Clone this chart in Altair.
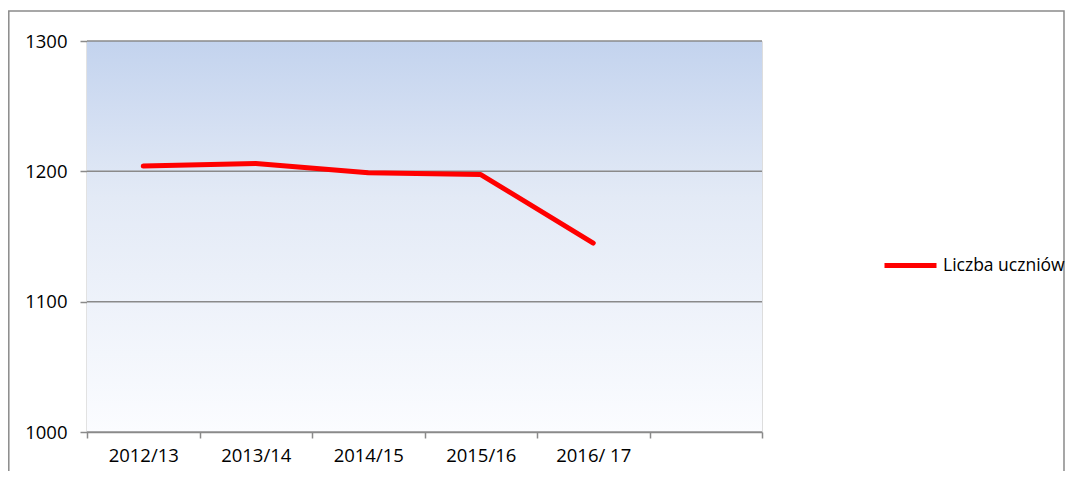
import altair as alt
import pandas as pd

categories = ["2012/13", "2013/14", "2014/15", "2015/16", "2016/ 17", ""]
years = ["2012/13", "2013/14", "2014/15", "2015/16", "2016/ 17"]
values = [1204, 1206, 1199, 1197.5, 1145]
series_name = "Liczba uczniów"
y_ticks = [1000, 1100, 1200, 1300]

df = pd.DataFrame({"rok": years, "liczba": values, "seria": [series_name] * len(years)})
grid_df = pd.DataFrame({"v": y_ticks})

FONT = "Open Sans"
FS = 18.5
GRAY = "#8a8a8a"

gradient = alt.LinearGradient(
    gradient="linear",
    stops=[
        alt.GradientStop(color="#c3d3ee", offset=0),
        alt.GradientStop(color="#e3eaf6", offset=0.4),
        alt.GradientStop(color="#fbfcff", offset=1),
    ],
    x1=0, x2=0, y1=0, y2=1,
)

y_scale = alt.Scale(domain=[1000, 1300], nice=False, zero=False)
y_axis = alt.Axis(
    title=None,
    values=y_ticks,
    format="d",
    tickSize=7,
    labelPadding=13,
    labelFont=FONT,
    labelFontSize=FS,
    labelColor="#000000",
    domainColor=GRAY,
    domainWidth=1.5,
    tickColor=GRAY,
    tickWidth=1.5,
    grid=False,
)

background = alt.Chart(pd.DataFrame({"a": [0]})).mark_rect(fill=gradient).encode(
    x=alt.value(0), x2=alt.value(675), y=alt.value(0), y2=alt.value(391)
)

border = alt.Chart(pd.DataFrame({"a": [0]})).mark_rect(
    filled=False, stroke=GRAY, strokeWidth=1.5
).encode(
    x=alt.value(-78.2), x2=alt.value(977), y=alt.value(-30), y2=alt.value(470)
)

grid = alt.Chart(grid_df).mark_rule(color=GRAY, strokeWidth=1.5).encode(
    y=alt.Y("v:Q", scale=y_scale, axis=y_axis),
    x=alt.value(0),
    x2=alt.value(675),
)

line = alt.Chart(df).mark_line(strokeWidth=5, strokeCap="round", strokeJoin="round").encode(
    x=alt.X(
        "rok:N",
        scale=alt.Scale(domain=categories, paddingInner=0, paddingOuter=0),
        sort=categories,
        axis=alt.Axis(
            title=None,
            labelAngle=0,
            tickBand="extent",
            tickSize=6,
            labelPadding=8,
            labelFont=FONT,
            labelFontSize=FS,
            labelColor="#000000",
            domainColor=GRAY,
            domainWidth=1.5,
            tickColor=GRAY,
            tickWidth=1.5,
            grid=False,
        ),
    ),
    y=alt.Y("liczba:Q", scale=y_scale, axis=y_axis),
    color=alt.Color(
        "seria:N",
        scale=alt.Scale(domain=[series_name], range=["#ff0000"]),
        legend=alt.Legend(
            title=None,
            orient="none",
            legendX=795,
            legendY=196,
            symbolType="stroke",
            symbolSize=2704,
            symbolStrokeWidth=5,
            labelFont=FONT,
            labelFontSize=17.5,
            labelColor="#000000",
            labelOffset=4,
        ),
    ),
)

chart = alt.layer(border, background, grid, line).properties(
    width=675,
    height=391,
    autosize=alt.AutoSizeParams(type="none"),
    padding={"left": 79, "top": 33, "right": 303, "bottom": 39},
).configure_view(stroke=None).configure(background="#ffffff")

chart.save("out.html", embed_options={"renderer": "svg", "actions": False})
